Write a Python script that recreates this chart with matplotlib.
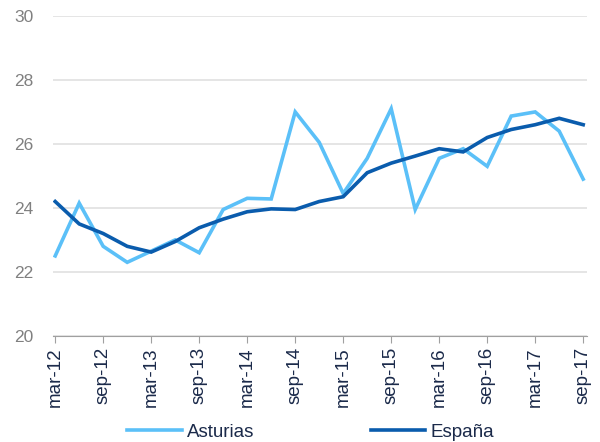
import numpy as np
import matplotlib.pyplot as plt

plt.rcParams['font.family'] = ['Liberation Sans', 'DejaVu Sans']

# trimestres mar-12 ... sep-17
trimestres = ['mar-12', 'jun-12', 'sep-12', 'dic-12', 'mar-13', 'jun-13', 'sep-13', 'dic-13',
              'mar-14', 'jun-14', 'sep-14', 'dic-14', 'mar-15', 'jun-15', 'sep-15', 'dic-15',
              'mar-16', 'jun-16', 'sep-16', 'dic-16', 'mar-17', 'jun-17', 'sep-17']
asturias = [22.5, 24.15, 22.8, 22.3, 22.65, 23.0, 22.6, 23.95, 24.3, 24.28, 27.0, 26.05,
            24.45, 25.55, 27.1, 23.95, 25.55, 25.85, 25.3, 26.87, 27.0, 26.4, 24.9]
espana = [24.2, 23.5, 23.2, 22.8, 22.62, 22.95, 23.38, 23.65, 23.88, 23.97, 23.95, 24.2,
          24.35, 25.1, 25.4, 25.62, 25.85, 25.75, 26.2, 26.45, 26.6, 26.8, 26.6]

x = np.arange(len(trimestres))

fig = plt.figure(figsize=(6, 4.42), dpi=100)
ax = fig.add_axes([0.088, 0.24, 0.89, 0.724])

ax.plot(x, asturias, color='#5BC0F8', lw=2.6, label='Asturias', solid_joinstyle='miter')
ax.plot(x, espana, color='#0A5CAD', lw=2.6, label='España', solid_joinstyle='miter')

ax.set_ylim(20, 30)
ax.set_yticks([20, 22, 24, 26, 28, 30])
ax.set_xlim(-0.1, 22.15)
ax.set_xticks(x[::2])
ax.set_xticklabels(trimestres[::2], rotation=90, fontsize=13.5, color='#1B2A4A')
ax.tick_params(axis='y', length=0, labelsize=12.5, labelcolor='#808080', pad=14)
ax.tick_params(axis='x', length=5, color='#A0A0A0', pad=3)

ax.grid(axis='y', color='#E0E0E0', lw=1.2)
ax.set_axisbelow(True)
for s in ['top', 'right', 'left']:
    ax.spines[s].set_visible(False)
ax.spines['bottom'].set_color('#A0A0A0')

fig.legend(loc='lower center', bbox_to_anchor=(0.518, -0.035), ncol=2, frameon=False,
           fontsize=13.5, columnspacing=6.2, handlelength=2.9, handletextpad=0.3,
           labelcolor='#1B2A4A')

fig.savefig('out.png', dpi=100)
